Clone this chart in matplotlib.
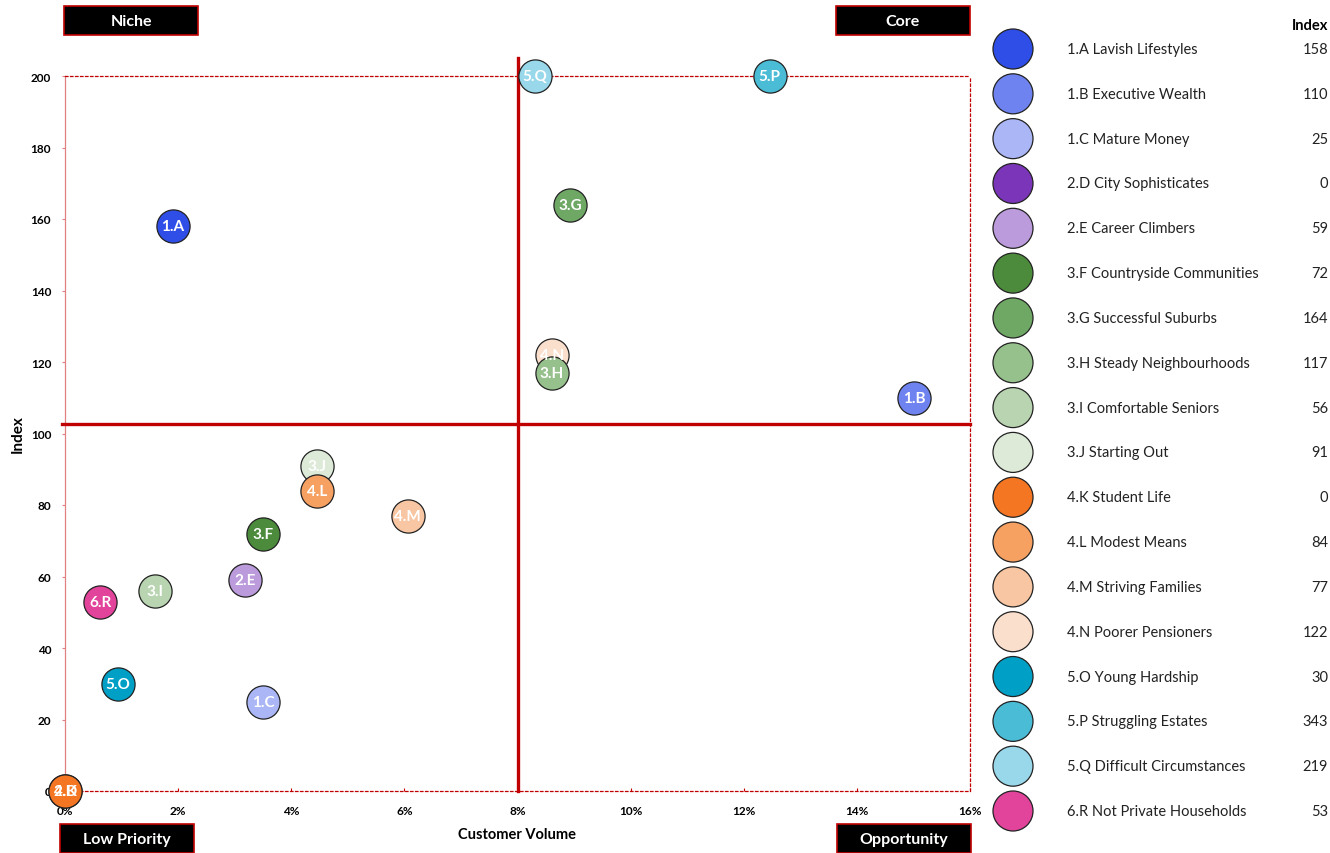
import numpy as np
import matplotlib.pyplot as plt
from matplotlib.patches import Rectangle
from matplotlib.ticker import FuncFormatter, MultipleLocator

plt.rcParams['font.family'] = ['Lato', 'DejaVu Sans']

# segment data
codes = ['1.A', '1.B', '1.C', '2.D', '2.E', '3.F', '3.G', '3.H', '3.I',
         '3.J', '4.K', '4.L', '4.M', '4.N', '5.O', '5.P', '5.Q', '6.R']
names = ['Lavish Lifestyles', 'Executive Wealth', 'Mature Money',
         'City Sophisticates', 'Career Climbers', 'Countryside Communities',
         'Successful Suburbs', 'Steady Neighbourhoods', 'Comfortable Seniors',
         'Starting Out', 'Student Life', 'Modest Means', 'Striving Families',
         'Poorer Pensioners', 'Young Hardship', 'Struggling Estates',
         'Difficult Circumstances', 'Not Private Households']
volume = [1.91, 15.01, 3.50, 0.0, 3.18, 3.50, 8.93, 8.61, 1.59,
          4.46, 0.0, 4.46, 6.06, 8.61, 0.94, 12.46, 8.31, 0.62]
index = [158, 110, 25, 0, 59, 72, 164, 117, 56,
         91, 0, 84, 77, 122, 30, 343, 219, 53]
colors = ['#2F4EE8', '#6F83F0', '#AAB6F5', '#7B35B8', '#BB9BDB', '#4B8B3B',
          '#6FA865', '#96C08C', '#B8D4B0', '#DDEAD8', '#F47622', '#F6A062',
          '#F8C6A2', '#FBDFCD', '#00A0C6', '#4BBCD6', '#99D8EA', '#E2439B']

vol_split = 8.0      # quadrant split on customer volume (%)
idx_split = 102.6    # quadrant split on index
y_cap = 200

red = '#C00000'

fig = plt.figure(figsize=(13.3, 8.54), dpi=100)
ax = fig.add_axes([65 / 1330, 1 - 792 / 854, 905 / 1330, 715 / 854])

ax.set_xlim(0, 16)
ax.set_ylim(0, y_cap)
for s in ax.spines.values():
    s.set_color(red)
    s.set_linestyle((0, (2, 2)))
    s.set_linewidth(0.9)
ax.spines['left'].set_linestyle('-')
ax.spines['left'].set_color('#E08080')

ax.xaxis.set_major_locator(MultipleLocator(2))
ax.yaxis.set_major_locator(MultipleLocator(20))
ax.xaxis.set_major_formatter(FuncFormatter(lambda v, p: f'{v:.0f}%'))
ax.tick_params(axis='x', length=2, color=red, labelsize=8.5, pad=10, direction='in')
ax.tick_params(axis='y', length=2, color='#E08080', labelsize=8.5, pad=8)
for lab in ax.get_xticklabels() + ax.get_yticklabels():
    lab.set_fontweight('bold')

ax.set_xlabel('Customer Volume', fontsize=10.5, fontweight='bold', labelpad=8)
ax.set_ylabel('Index', fontsize=11, fontweight='bold', labelpad=4)

# quadrant lines
ax.plot([vol_split, vol_split], [0, 205], color=red, lw=2.4, clip_on=False, zorder=3)
ax.plot([-0.05, 16], [idx_split, idx_split], color=red, lw=2.4, clip_on=False, zorder=3)

# bubbles (index capped at the top of the axis); 3.H sits above 4.N
y_plot = np.minimum(index, y_cap)
draw_order = [i for i in range(len(codes)) if codes[i] != '3.H'] + [codes.index('3.H')]
for k, i in enumerate(draw_order):
    ax.scatter(volume[i], y_plot[i], s=570, color=colors[i], edgecolor='#222222',
               linewidth=0.9, clip_on=False, zorder=4 + k * 0.01)
for i, code in enumerate(codes):
    ax.text(volume[i], y_plot[i], code, color='white', fontsize=11,
            fontweight='bold', ha='center', va='center', clip_on=False, zorder=5)

# overlay in pixel coordinates for legend and quadrant tags
ov = fig.add_axes([0, 0, 1, 1])
ov.set_xlim(0, 1330)
ov.set_ylim(854, 0)
ov.axis('off')
ov.patch.set_visible(False)

tags = [('Niche', 64, 7), ('Core', 836, 7), ('Low Priority', 60, 825), ('Opportunity', 837, 825)]
for txt, x0, y0 in tags:
    ov.add_patch(Rectangle((x0, y0), 134, 29, facecolor='black', edgecolor=red, lw=1.2))
    ov.text(x0 + 67, y0 + 15, txt, color='white', fontsize=11.5, fontweight='bold',
            ha='center', va='center')

row_y = 50 + np.arange(len(codes)) * (812 - 50) / (len(codes) - 1)
ov.scatter(np.full(len(codes), 1013), row_y, s=830, c=colors,
           edgecolor='#222222', linewidth=0.9)
name_clip = Rectangle((1060, 0), 189, 854, transform=ov.transData, visible=False)
ov.add_patch(name_clip)
ov.text(1328, 26, 'Index', fontsize=10.5, fontweight='bold', ha='right', va='center')
for i, code in enumerate(codes):
    t = ov.text(1067, row_y[i], f'{code} {names[i]}', fontsize=10.5,
                ha='left', va='center', color='#222222')
    t.set_clip_path(name_clip)
    ov.text(1328, row_y[i], str(index[i]), fontsize=10.5, ha='right',
            va='center', color='#222222')

fig.savefig('out.png', dpi=100)
